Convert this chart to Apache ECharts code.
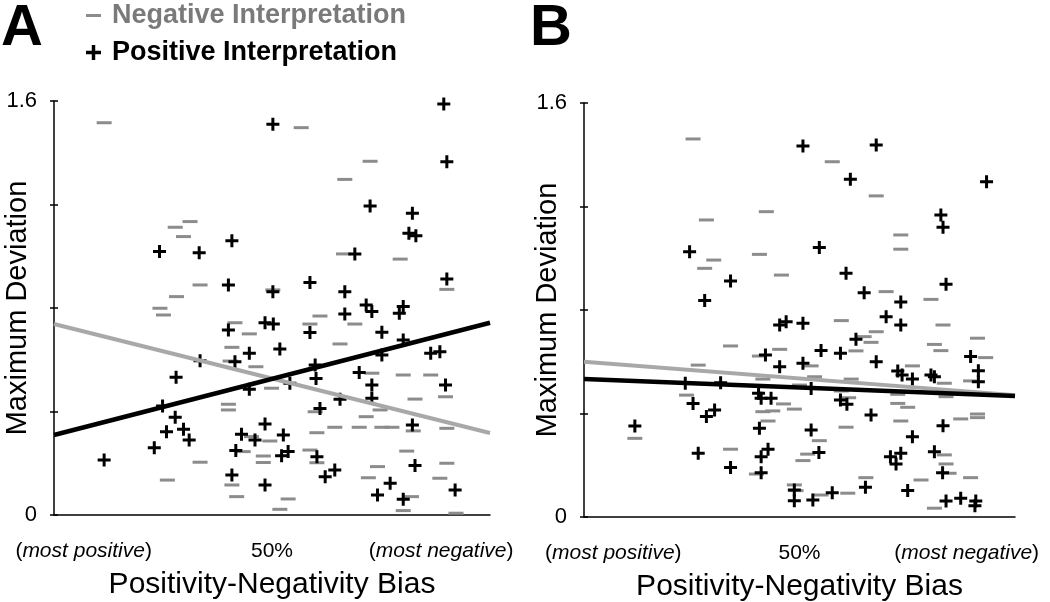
<!DOCTYPE html>
<html><head><meta charset="utf-8">
<script src="https://cdn.jsdelivr.net/npm/echarts@6/dist/echarts.min.js"></script>
<style>html,body{margin:0;padding:0;background:#fff}#c{width:1050px;height:602px}</style>
</head><body><div id="c"></div>
<script>
// ---------- data (x: positivity-negativity bias %, y: maximum deviation) ----------
const A_NEG = [[11.5,1.516],[31.2,1.134],[27.8,1.112],[29.7,1.076],[33.5,0.889],[28.1,0.844],[24.3,0.799],[25.1,0.773],[56.7,1.497],[72.5,1.367],[66.7,1.297],[66.4,1.009],[79.4,0.989],[50.2,0.870],[90.1,0.872],[61.0,0.769],[58.7,0.738],[69.0,0.738],[65.6,0.661],[72.9,0.548],[80.1,0.541],[86.4,0.541],[49.9,0.490],[89.8,0.457],[82.8,0.448],[59.9,0.399],[74.8,0.406],[71.6,0.380],[64.4,0.339],[70.0,0.339],[75.2,0.339],[77.5,0.339],[82.4,0.325],[90.1,0.335],[60.3,0.318],[49.5,0.286],[48.0,0.228],[48.0,0.203],[58.7,0.251],[60.3,0.202],[80.9,0.247],[90.1,0.200],[74.2,0.187],[72.1,0.144],[88.5,0.142],[82.0,0.071],[53.7,0.062],[51.8,0.022],[80.1,0.017],[92.2,0.007],[41.5,0.743],[44.8,0.700],[40.8,0.648],[40.4,0.595],[46.3,0.573],[40.0,0.428],[40.0,0.406],[45.3,0.303],[43.4,0.245],[33.5,0.204],[40.8,0.116],[26.0,0.135],[41.9,0.071]];
const A_POS = [[24.2,1.018],[33.3,1.014],[40.8,1.060],[40.0,0.889],[50.2,1.510],[89.4,1.588],[90.1,1.365],[72.5,1.194],[82.2,1.166],[81.4,1.089],[83.0,1.079],[69.0,1.009],[58.7,0.899],[50.2,0.863],[66.7,0.863],[90.1,0.912],[71.6,0.812],[80.1,0.806],[72.9,0.786],[79.2,0.780],[66.7,0.777],[48.4,0.743],[50.3,0.738],[58.7,0.705],[75.2,0.706],[51.8,0.642],[80.1,0.676],[86.4,0.625],[88.5,0.631],[75.2,0.618],[59.9,0.580],[60.1,0.528],[70.0,0.551],[72.9,0.502],[72.9,0.451],[54.1,0.509],[89.8,0.502],[65.6,0.447],[61.0,0.412],[48.4,0.352],[82.2,0.348],[52.6,0.309],[52.2,0.229],[53.7,0.245],[60.3,0.225],[82.8,0.191],[62.2,0.148],[64.4,0.174],[48.4,0.116],[77.1,0.123],[74.2,0.077],[92.0,0.097],[80.1,0.061],[40.0,0.715],[33.5,0.596],[28.0,0.532],[44.8,0.625],[41.5,0.592],[44.8,0.486],[24.9,0.421],[27.8,0.378],[25.8,0.322],[29.7,0.331],[31.0,0.290],[23.0,0.260],[11.5,0.213],[43.0,0.312],[46.1,0.290],[41.7,0.249],[40.8,0.155]];
const B_NEG = [[25.3,1.461],[28.4,1.148],[42.3,1.180],[30.1,0.993],[28.0,0.961],[40.7,1.015],[45.8,0.935],[57.6,1.373],[67.8,1.241],[73.5,1.090],[73.5,1.035],[70.1,0.871],[80.5,0.841],[34.0,0.661],[45.4,0.648],[40.7,0.622],[26.5,0.587],[41.5,0.533],[23.8,0.471],[46.3,0.437],[41.5,0.407],[43.8,0.410],[42.7,0.371],[11.8,0.304],[34.0,0.262],[40.0,0.166],[59.7,0.759],[83.3,0.742],[67.8,0.716],[65.0,0.697],[66.6,0.675],[81.3,0.667],[82.8,0.643],[91.3,0.691],[63.1,0.642],[93.2,0.616],[52.7,0.584],[76.2,0.584],[89.7,0.526],[53.5,0.542],[62.0,0.533],[50.0,0.510],[83.6,0.517],[84.0,0.465],[59.7,0.487],[72.8,0.474],[61.4,0.461],[48.8,0.417],[72.8,0.439],[75.1,0.424],[91.3,0.398],[91.3,0.384],[87.4,0.379],[73.5,0.371],[60.8,0.347],[54.6,0.295],[51.9,0.243],[50.8,0.218],[83.6,0.240],[84.0,0.205],[84.7,0.169],[78.2,0.143],[89.7,0.152],[65.4,0.152],[48.8,0.124],[49.2,0.102],[55.0,0.085],[61.2,0.092],[81.3,0.034]];
const B_POS = [[24.5,1.025],[34.0,0.912],[28.0,0.837],[50.8,1.434],[67.8,1.438],[61.8,1.305],[93.4,1.296],[82.8,1.167],[83.3,1.120],[54.6,1.042],[60.8,0.942],[65.0,0.867],[73.5,0.831],[84.0,0.900],[45.4,0.742],[46.9,0.755],[42.1,0.626],[45.4,0.581],[23.5,0.517],[31.7,0.519],[40.5,0.478],[41.1,0.459],[43.4,0.459],[25.3,0.439],[28.4,0.388],[30.3,0.414],[11.8,0.352],[40.7,0.343],[42.7,0.262],[41.1,0.233],[26.5,0.246],[34.0,0.191],[41.1,0.171],[50.8,0.749],[70.1,0.774],[73.5,0.742],[63.1,0.687],[55.0,0.643],[59.5,0.633],[67.8,0.600],[89.7,0.620],[50.8,0.594],[72.8,0.564],[73.8,0.549],[76.2,0.533],[80.5,0.549],[81.3,0.542],[91.5,0.565],[91.5,0.523],[52.7,0.497],[59.5,0.452],[61.0,0.436],[66.6,0.394],[83.3,0.353],[52.7,0.336],[76.2,0.310],[54.5,0.249],[71.1,0.233],[73.5,0.246],[72.4,0.205],[81.3,0.252],[83.2,0.171],[65.3,0.115],[48.8,0.104],[48.8,0.063],[53.1,0.066],[57.6,0.094],[75.1,0.102],[84.0,0.062],[87.4,0.072],[90.9,0.062],[90.7,0.043]];
// regression lines (endpoints)
const A_NEG_FIT = [[0,0.738],[100,0.317]];
const A_POS_FIT = [[0,0.309],[100,0.743]];
const B_NEG_FIT = [[0,0.600],[100,0.471]];
const B_POS_FIT = [[0,0.533],[100,0.468]];
// tick labels
const X_TICK_VALUES = [6.8, 50, 88.8];
const X_TICK_LABELS = ['({i|most positive})', '50%', '({i|most negative})'];
const Y_TICK_LABELS = {0: '0', 1.6: '1.6'};
const PANEL_LABELS = ['A', 'B'];
const NEG_NAME = 'Negative Interpretation';
const POS_NAME = 'Positive Interpretation';

// ---------- styling ----------
const FONT = '"Liberation Sans", Arial, Helvetica, sans-serif';
const PLUS = 'path://M0,5h13v3h-13z M5,0h3v13h-3z';
const MINUS = 'path://M0,0h15v3h-15z';
const GRAY = '#8c8c8c';
const LINE_GRAY = '#a8a8a8';

const chart = echarts.init(document.getElementById('c'), null, {renderer: 'canvas'});

const grids = [
  {left: 54, right: 560, top: 101, bottom: 87, outerBoundsMode: 'none', containLabel: false},
  {left: 584, right: 35, top: 103, bottom: 85, outerBoundsMode: 'none', containLabel: false}
];

function xAxis(i) {
  return {
    type: 'value', gridIndex: i, min: 0, max: 100,
    name: 'Positivity-Negativity Bias', nameLocation: 'middle', nameGap: 55, nameMoveOverlap: false,
    nameTextStyle: {fontFamily: FONT, fontSize: 30, color: '#000'},
    axisLine: {lineStyle: {color: '#000', width: 1.5}},
    axisTick: {show: false},
    splitLine: {show: false},
    axisLabel: {
      customValues: X_TICK_VALUES, margin: 26,
      fontFamily: FONT, fontSize: 21, color: '#000',
      formatter: v => X_TICK_LABELS[X_TICK_VALUES.indexOf(v)] || '',
      rich: {i: {fontFamily: FONT, fontSize: 21, fontStyle: 'italic', color: '#000'}}
    }
  };
}
function yLabel(v) {
  for (const k in Y_TICK_LABELS) if (Math.abs(v - Number(k)) < 1e-6) return Y_TICK_LABELS[k];
  return '';
}
function yAxis(i) {
  return {
    type: 'value', gridIndex: i, min: 0, max: 1.6, interval: 0.4, position: 'left',
    name: 'Maximum Deviation', nameLocation: 'middle', nameGap: 22, nameRotate: 90, nameMoveOverlap: false,
    nameTextStyle: {fontFamily: FONT, fontSize: 29, color: '#000'},
    axisLine: {show: true, lineStyle: {color: '#000', width: 1.5}},
    axisTick: {show: true, inside: false, length: 4, lineStyle: {color: '#000', width: 1.5}},
    splitLine: {show: false},
    axisLabel: {margin: 17, fontFamily: FONT, fontSize: 22, color: '#000', formatter: yLabel}
  };
}
function yAxisInner(i) {
  return {
    type: 'value', gridIndex: i, min: 0, max: 1.6, interval: 0.4, position: 'left',
    axisLine: {show: false},
    axisTick: {show: true, inside: true, length: 4, lineStyle: {color: '#000', width: 1.5}},
    splitLine: {show: false},
    axisLabel: {show: false}
  };
}

function panelSeries(i, neg, pos, negFit, posFit) {
  const yi = i * 2;
  return [
    {name: NEG_NAME, type: 'scatter', xAxisIndex: i, yAxisIndex: yi, data: neg,
     symbol: 'rect', symbolSize: [15, 3], itemStyle: {color: GRAY, opacity: 1}, z: 3, silent: true},
    {name: POS_NAME, type: 'scatter', xAxisIndex: i, yAxisIndex: yi, data: pos,
     symbol: PLUS, symbolSize: [13, 13], itemStyle: {color: '#000', opacity: 1}, z: 4, silent: true},
    {name: NEG_NAME + ' fit', type: 'line', xAxisIndex: i, yAxisIndex: yi, data: negFit,
     showSymbol: false, symbol: 'none', lineStyle: {color: LINE_GRAY, width: 4}, z: 5, silent: true},
    {name: POS_NAME + ' fit', type: 'line', xAxisIndex: i, yAxisIndex: yi, data: posFit,
     showSymbol: false, symbol: 'none', lineStyle: {color: '#000', width: 4.5}, z: 6, silent: true}
  ];
}

chart.setOption({
  animation: false,
  backgroundColor: '#fff',
  title: PANEL_LABELS.map((t, i) => ({
    text: t, left: i === 0 ? 1 : 530, top: 0, padding: 0,
    textStyle: {fontFamily: FONT, fontSize: 58, fontWeight: 'bold', color: '#000'}
  })),
  legend: {
    orient: 'vertical', left: 86, top: 2, padding: 0, itemGap: 10,
    itemWidth: 15, itemHeight: 15, selectedMode: false,
    textStyle: {fontFamily: FONT, fontSize: 27, fontWeight: 'bold', padding: [0, 0, 0, 6]},
    data: [
      {name: NEG_NAME, icon: MINUS, textStyle: {color: '#7a7a7a'}},
      {name: POS_NAME, icon: PLUS, textStyle: {color: '#000'}}
    ]
  },
  grid: grids,
  xAxis: [xAxis(0), xAxis(1)],
  yAxis: [yAxis(0), yAxisInner(0), yAxis(1), yAxisInner(1)],
  series: [
    ...panelSeries(0, A_NEG, A_POS, A_NEG_FIT, A_POS_FIT),
    ...panelSeries(1, B_NEG, B_POS, B_NEG_FIT, B_POS_FIT)
  ]
});
</script>
</body></html>
